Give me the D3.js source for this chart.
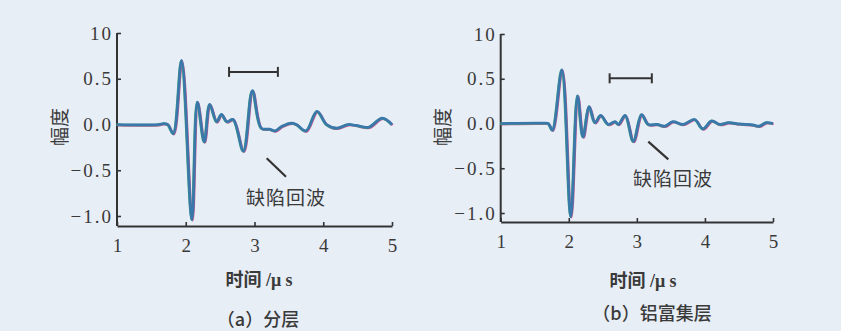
<!DOCTYPE html>
<html><head><meta charset="utf-8">
<script src="https://cdn.jsdelivr.net/npm/d3@7/dist/d3.min.js"></script>
<style>
html,body{margin:0;padding:0;background:#e8eef6;}
svg{display:block;}
text{font-family:"Liberation Serif","Noto Sans CJK SC",serif;fill:#3a3a3a;}
</style></head><body>
<svg id="c" width="841" height="331"></svg>
<script>
// ---- data ----
const xTicks = [1, 2, 3, 4, 5];
const xTickLabels = ["1", "2", "3", "4", "5"];
const yTicks = [-1, -0.5, 0, 0.5, 1];
const yTickLabels = ["\u22121.0", "\u22120.5", "0.0", "0.5", "10"];

const timeA = [1.00,1.60,1.68,1.74,1.82,1.94,2.09,2.17,2.27,2.35,2.45,2.52,2.60,2.69,2.84,2.97,3.10,3.22,3.30,3.40,3.54,3.61,3.75,3.91,4.05,4.20,4.36,4.48,4.66,4.86,5.00];
const ampA  = [0,0,0.01,0.0,-0.10,0.70,-1.04,0.245,-0.19,0.22,0.03,0.11,0.03,0.055,-0.29,0.37,-0.04,-0.05,-0.07,-0.02,0.015,0.0,-0.07,0.145,0.0,-0.04,0.0,-0.01,-0.03,0.07,0.0];

const timeB = [1.00,1.62,1.70,1.76,1.90,2.03,2.13,2.21,2.30,2.385,2.47,2.58,2.68,2.73,2.83,2.95,3.07,3.17,3.30,3.41,3.53,3.68,3.85,3.97,4.10,4.22,4.35,4.51,4.70,4.80,4.90,5.00];
const ampB  = [0,0.005,0.0,-0.075,0.60,-1.04,0.31,-0.15,0.19,0.01,0.09,-0.01,0.02,-0.01,0.09,-0.20,0.10,-0.01,-0.01,-0.03,0.02,-0.01,0.045,-0.06,0.03,-0.01,0.01,-0.005,-0.015,-0.03,0.01,0.0];

const spanA = [2.63, 3.34], spanAY = 0.575;
const spanB = [2.60, 3.22], spanBY = 0.505;

const yLabel = "幅度";
const xLabel = "时间 /μ s";
const captions = ["（a）分层", "（b）铝富集层"];
const echoLabel = "缺陷回波";

// ---- layout ----
const panels = [
  {t: timeA, a: ampA, span: spanA, spanY: spanAY, cap: captions[0],
   x0: 117, x1: 392, yTop: 33, yBot: 216, axisY: 226,
   yLab: [58, 127], yLabColor: "#3f6b5e",
   xLabY: 280, xLabX: 259, capY: 318, capX: 258,
   lead: [[266.7,158.3],[286,176.7]], echo: [286, 196]},
  {t: timeB, a: ampB, span: spanB, spanY: spanBY, cap: captions[1],
   x0: 500.7, x1: 773, yTop: 34, yBot: 213, axisY: 222,
   yLab: [441, 127], yLabColor: "#634466",
   xLabY: 281, xLabX: 643, capY: 312, capX: 652,
   lead: [[648.3,141.7],[668.3,159.3]], echo: [673, 177]}
];

const svg = d3.select("#c");

function styleAxis(sel) {
  sel.attr("font-family", "Liberation Serif").attr("font-size", 19);
  sel.selectAll(".tick line").attr("stroke", "#333").attr("stroke-width", 1.6);
  sel.selectAll(".tick text")
    .attr("font-family", "Liberation Serif").attr("font-size", 19)
    .style("font-family", "'Liberation Serif', serif").style("font-size", "19px")
    .attr("fill", "#3a3a3a");
}

panels.forEach(p => {
  const x = d3.scaleLinear().domain([1, 5]).range([p.x0, p.x1]);
  const y = d3.scaleLinear().domain([-1, 1]).range([p.yBot, p.yTop]);
  const g = svg.append("g");

  // y axis
  const ya = d3.axisLeft(y).tickValues(yTicks)
    .tickFormat((d, i) => yTickLabels[i]).tickSizeInner(-4).tickSizeOuter(0).tickPadding(4);
  const yg = g.append("g").attr("transform", `translate(${p.x0},0)`).call(ya);
  yg.select(".domain").remove();
  styleAxis(yg);
  yg.selectAll(".tick text").style("letter-spacing", "2px");
  g.append("line").attr("x1", p.x0).attr("x2", p.x0).attr("y1", p.yTop).attr("y2", p.axisY)
    .attr("stroke", "#333").attr("stroke-width", 2);

  // x axis
  const xa = d3.axisBottom(x).tickValues(xTicks)
    .tickFormat((d, i) => xTickLabels[i]).tickSizeInner(-4).tickSizeOuter(0).tickPadding(13);
  const xg = g.append("g").attr("transform", `translate(0,${p.axisY})`).call(xa);
  xg.select(".domain").attr("stroke", "#333").attr("stroke-width", 2);
  styleAxis(xg);

  // waveform (slightly misregistered colour passes)
  const pts = p.t.map((t, i) => [t, p.a[i]]);
  const line = d3.line().x(d => x(d[0])).y(d => y(d[1])).curve(d3.curveCatmullRom.alpha(0.5));
  [["#c2578f", "translate(0.6,0.7)", 2.4], ["#43a67c", "translate(-0.5,0.2)", 2.4], ["#3a78ab", null, 2.7]]
    .forEach(([c, tr, w]) => {
      const path = g.append("path").datum(pts).attr("d", line).attr("fill", "none")
        .attr("stroke", c).attr("stroke-width", w).attr("stroke-linejoin", "round");
      if (tr) path.attr("transform", tr);
    });

  // span bar
  const sy = y(p.spanY);
  g.append("line").attr("x1", x(p.span[0])).attr("x2", x(p.span[1])).attr("y1", sy).attr("y2", sy)
    .attr("stroke", "#333").attr("stroke-width", 2);
  p.span.forEach(s => g.append("line").attr("x1", x(s)).attr("x2", x(s))
    .attr("y1", sy - 5).attr("y2", sy + 5).attr("stroke", "#333").attr("stroke-width", 2));

  // leader + echo label
  g.append("line").attr("x1", p.lead[0][0]).attr("y1", p.lead[0][1])
    .attr("x2", p.lead[1][0]).attr("y2", p.lead[1][1]).attr("stroke", "#333").attr("stroke-width", 2.2);
  g.append("text").attr("x", p.echo[0]).attr("y", p.echo[1]).attr("text-anchor", "middle")
    .attr("dominant-baseline", "central").style("font-size", "19px").style("letter-spacing", "1px")
    .style("font-family", "'Noto Sans CJK SC',sans-serif").attr("fill", "#444").text(echoLabel);

  // y label
  g.append("text").attr("transform", `translate(${p.yLab[0]},${p.yLab[1]}) rotate(-90)`)
    .attr("text-anchor", "middle").attr("dominant-baseline", "central")
    .style("font-size", "19px").style("font-family", "'Noto Sans CJK SC',sans-serif")
    .attr("fill", p.yLabColor).text(yLabel);

  // x label
  g.append("text").attr("x", p.xLabX).attr("y", p.xLabY).attr("text-anchor", "middle")
    .attr("dominant-baseline", "central").style("font-size", "18px").style("font-weight", "bold")
    .attr("fill", "#4a4a4a").text(xLabel);

  // caption
  g.append("text").attr("x", p.capX).attr("y", p.capY).attr("text-anchor", "middle")
    .attr("dominant-baseline", "central").style("font-size", "18px").style("font-weight", "500")
    .style("font-family", "'Noto Sans CJK SC',sans-serif")
    .attr("fill", "#333").text(p.cap);
});
</script>
</body></html>
